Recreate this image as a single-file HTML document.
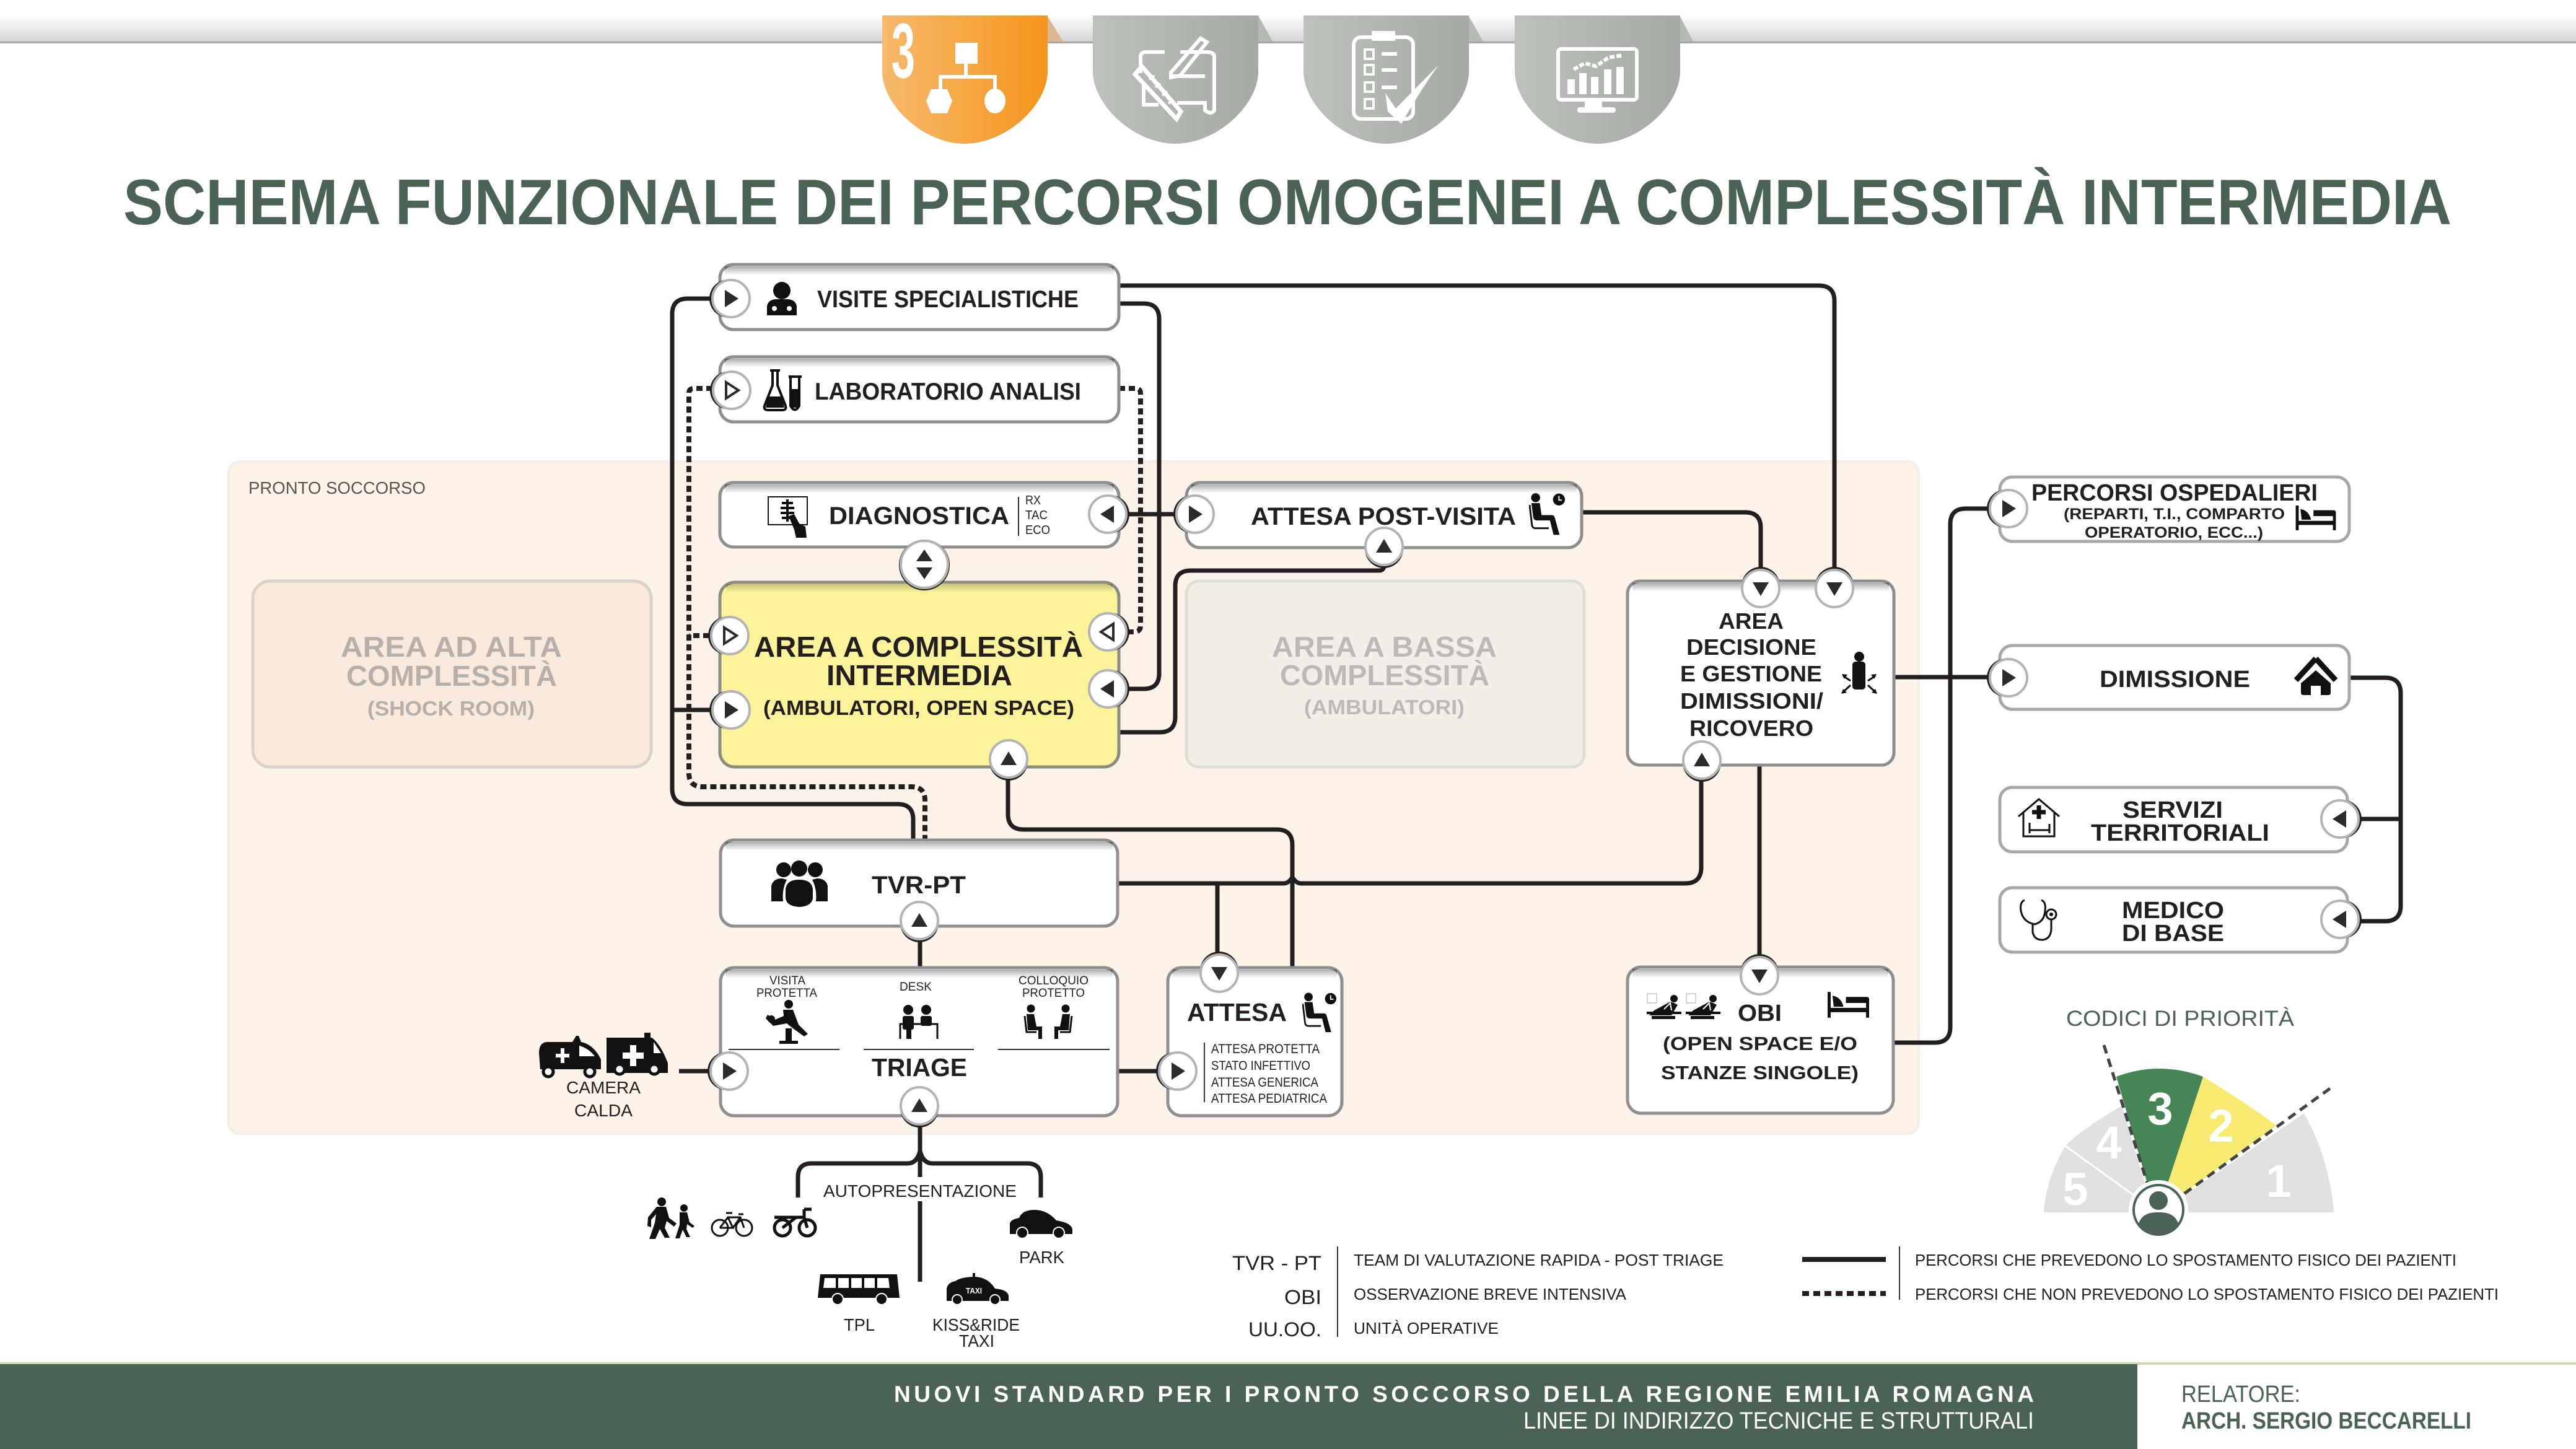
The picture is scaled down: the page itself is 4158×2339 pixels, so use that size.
<!DOCTYPE html>
<html lang="it"><head><meta charset="utf-8"><title>Schema funzionale</title>
<style>
html,body{margin:0;padding:0;background:#fff}
svg{display:block}
text{font-family:"Liberation Sans",sans-serif;fill:#231f20}
.b{font-weight:700}
.g{fill:#4a6354}
.w{fill:#fff}
.ln{fill:none;stroke:#231f20;stroke-width:7}
.dt{fill:none;stroke:#231f20;stroke-width:8;stroke-dasharray:10 6}
.bx{fill:#fff;stroke:#8f8f8f;stroke-width:5}
.bx2{fill:#fff;stroke:#a8a8a8;stroke-width:5}
.ic{fill:#111}
.st{fill:none;stroke:#111;stroke-width:4}
.wst{fill:none;stroke:#fff;stroke-width:6}
</style></head><body>
<svg xmlns="http://www.w3.org/2000/svg" width="4158" height="2339" viewBox="0 0 4158 2339">
<defs>
<linearGradient id="band" x1="0" y1="0" x2="0" y2="1"><stop offset="0" stop-color="#fff"/><stop offset="1" stop-color="#d4d4d4"/></linearGradient>
<linearGradient id="org" x1="0" y1="0" x2="1" y2="0"><stop offset="0" stop-color="#f7b96b"/><stop offset="1" stop-color="#f5951d"/></linearGradient>
<linearGradient id="gry" x1="0" y1="0" x2="1" y2="0"><stop offset="0" stop-color="#bdc1bb"/><stop offset="1" stop-color="#a4a9a3"/></linearGradient>
<linearGradient id="ins" x1="0" y1="0" x2="0" y2="1"><stop offset="0" stop-color="#000" stop-opacity=".32"/><stop offset="1" stop-color="#000" stop-opacity="0"/></linearGradient>
<path id="shield" d="M0 0H267V90C267 145 200 207 133 207C67 207 0 145 0 90Z"/>
<g id="bR"><circle cx="-4" r="31" fill="#231f20"/><circle r="30" fill="#fff" stroke="#b4b4b4" stroke-width="4"/><polygon points="-10,-14 12,0 -10,14" fill="#2b2b2b"/></g>
<g id="bL"><circle cx="4" r="31" fill="#231f20"/><circle r="30" fill="#fff" stroke="#b4b4b4" stroke-width="4"/><polygon points="10,-14 -12,0 10,14" fill="#2b2b2b"/></g>
<g id="bU"><circle cy="4" r="31" fill="#231f20"/><circle r="30" fill="#fff" stroke="#b4b4b4" stroke-width="4"/><polygon points="-13,10 0,-12 13,10" fill="#2b2b2b"/></g>
<g id="bD"><circle cy="-4" r="31" fill="#231f20"/><circle r="30" fill="#fff" stroke="#b4b4b4" stroke-width="4"/><polygon points="-13,-10 0,12 13,-10" fill="#2b2b2b"/></g>
<g id="bRh"><circle cx="-4" r="31" fill="#231f20"/><circle r="30" fill="#fff" stroke="#b4b4b4" stroke-width="4"/><polygon points="-9,-13 11,0 -9,13" fill="#fff" stroke="#2b2b2b" stroke-width="4"/></g>
<g id="bLh"><circle cx="4" r="31" fill="#231f20"/><circle r="30" fill="#fff" stroke="#b4b4b4" stroke-width="4"/><polygon points="9,-13 -11,0 9,13" fill="#fff" stroke="#2b2b2b" stroke-width="4"/></g>
<symbol id="seat" viewBox="0 0 60 72"><circle cx="11" cy="8" r="7.5" fill="#111"/><path d="M4 17h14l3 20h17q4 0 5 4l8 29h-10l-6-24H14q-6 0-7-6z" fill="#111"/><path d="M1 20l4 34q1 5 6 5h22" fill="none" stroke="#111" stroke-width="3"/><circle cx="50" cy="11" r="10" fill="#111"/><path d="M50 5v7h5" fill="none" stroke="#fff" stroke-width="2"/></symbol>
<symbol id="bed" viewBox="0 0 68 42"><path d="M0 0h5v26h58v-8H30V8h34q4 0 4 4v30h-5v-9H5v9H0z" fill="#111"/><path d="M8 6q14 2 18 18H10z" fill="#111"/></symbol>
<symbol id="pat" viewBox="0 0 56 42"><rect x="1" y="1" width="15" height="15" fill="#fff" stroke="#aaa" stroke-width="1"/><circle cx="44" cy="9" r="6" fill="#111"/><path d="M12 28L38 14l6 2 6 3-10 17H4z" fill="#111"/><path d="M28 26l10-10 2 12" fill="none" stroke="#fff" stroke-width="2"/><rect y="30" width="56" height="4" fill="#111"/><rect x="8" y="37" width="38" height="5" fill="#111"/></symbol>
</defs>

<!-- top band -->
<rect x="0" y="25" width="4158" height="42" fill="url(#band)"/>
<rect x="0" y="67" width="4158" height="3" fill="#a6a8a7"/>
<polygon points="1690,25 1716,67 1690,67" fill="#d9b88f"/>
<polygon points="2031,25 2054,67 2031,67" fill="#b5b9b4"/>
<polygon points="2370,25 2394,67 2370,67" fill="#b5b9b4"/>
<polygon points="2711,25 2733,67 2711,67" fill="#b5b9b4"/>
<use href="#shield" x="1424" y="25" fill="url(#org)"/>
<use href="#shield" x="1764" y="25" fill="url(#gry)"/>
<use href="#shield" x="2104" y="25" fill="url(#gry)"/>
<use href="#shield" x="2445" y="25" fill="url(#gry)"/>
<!-- shield 1 -->
<text x="1439" y="125" font-size="125" class="b w" textLength="38" lengthAdjust="spacingAndGlyphs">3</text>
<rect x="1542" y="69" width="36" height="34" fill="#fff"/>
<path d="M1559 103V122M1518 145V124H1606V145" class="wst"/>
<polygon points="1495,163 1503,144 1529,144 1537,163 1529,183 1503,183" fill="#fff"/>
<ellipse cx="1606" cy="163" rx="17" ry="20" fill="#fff"/>
<!-- shield 2 -->
<path d="M1905 84H1948Q1960 84 1960 92V178Q1955 186 1945 178V166H1900M1841 118V92Q1841 84 1850 84H1880M1846 135V169H1870" class="wst"/>
<polygon points="1832,120 1843,107 1906,180 1899,192" fill="none" stroke="#fff" stroke-width="7"/>
<path d="M1890 117L1938 62L1948 68L1905 122L1890 125Z" fill="none" stroke="#fff" stroke-width="6"/>
<path d="M1890 123H1945" class="wst"/>
<path d="M1855 128l8-6M1865 141l8-6M1876 154l8-6M1886 167l8-6" stroke="#fff" stroke-width="4"/>
<!-- shield 3 -->
<rect x="2185" y="60" width="96" height="132" rx="12" class="wst"/>
<rect x="2214" y="50" width="38" height="16" fill="#fff"/>
<rect x="2203" y="80" width="14" height="15" class="wst" style="stroke-width:4"/><path d="M2230 87h25" class="wst"/>
<rect x="2203" y="105" width="14" height="15" class="wst" style="stroke-width:4"/><path d="M2230 113h25" class="wst"/>
<rect x="2203" y="133" width="14" height="15" class="wst" style="stroke-width:4"/><path d="M2230 141h25" class="wst"/>
<rect x="2203" y="160" width="14" height="15" class="wst" style="stroke-width:4"/>
<path d="M2236 150L2253 175L2322 105Q2290 150 2262 200L2240 180Z" fill="#fff"/>
<!-- shield 4 -->
<rect x="2515" y="79" width="127" height="82" rx="5" class="wst"/>
<rect x="2558" y="161" width="28" height="14" fill="#fff"/><rect x="2546" y="173" width="62" height="9" rx="4" fill="#fff"/>
<path d="M2536 152v-24M2555 152v-34M2574 152v-28M2595 152v-40M2615 152v-44" stroke="#fff" stroke-width="12" fill="none"/>
<path d="M2540 112l18-10 18 5 20-14 24-4" stroke="#fff" stroke-width="6" fill="none" stroke-dasharray="8 3"/>

<!-- title -->
<text x="199" y="362" font-size="104" class="b g" textLength="3758" lengthAdjust="spacingAndGlyphs">SCHEMA FUNZIONALE DEI PERCORSI OMOGENEI A COMPLESSITÀ INTERMEDIA</text>

<!-- pronto soccorso -->
<rect x="369" y="745" width="2728" height="1085" rx="18" fill="#fdf3e8" stroke="#f2efe9" stroke-width="4"/>
<text x="401" y="797" font-size="28" style="fill:#58564f" textLength="286" lengthAdjust="spacingAndGlyphs">PRONTO SOCCORSO</text>

<rect x="408" y="938" width="643" height="300" rx="28" fill="#f9e8dc" stroke="#d8d2cb" stroke-width="5"/>
<rect x="1915" y="938" width="642" height="300" rx="20" fill="#f2ede6" stroke="#e0dcd6" stroke-width="5"/>

<!-- connectors -->
<path class="ln" d="M1806 461H2936Q2961 461 2961 486V925"/>
<path class="ln" d="M1806 490H1846Q1871 490 1871 515V1087Q1871 1112 1846 1112H1815"/>
<path class="ln" d="M1150 482H1110Q1085 482 1085 507V1273Q1085 1298 1110 1298H1449Q1474 1298 1474 1323V1356"/>
<path class="ln" d="M1085 1146H1150"/>
<path class="ln" d="M1815 830H1900"/>
<path class="ln" d="M1806 1182H1872Q1897 1182 1897 1157V946Q1897 921 1922 921H2226Q2234 921 2234 912"/>
<path class="ln" d="M2553 827H2817Q2842 827 2842 852V925"/>
<path class="ln" d="M2840 1235V1550"/>
<path class="ln" d="M3057 1093H3215"/>
<path class="ln" d="M3057 1683H3123Q3148 1683 3148 1658V846Q3148 821 3173 821H3215"/>
<path class="ln" d="M3792 1094H3850Q3875 1094 3875 1119V1462Q3875 1487 3850 1487H3805"/>
<path class="ln" d="M3800 1322H3875"/>
<path class="ln" d="M1804 1426H2072Q2080 1426 2086 1416Q2092 1426 2100 1426H2720Q2746 1426 2746 1400V1255"/>
<path class="ln" d="M1965 1426V1545"/>
<path class="ln" d="M2086 1562V1364Q2086 1339 2061 1339H1652Q1627 1339 1627 1314V1255"/>
<path class="ln" d="M1485 1515V1562"/>
<path class="ln" d="M1485 1810V1900M1485 1939V2069"/>
<path class="ln" d="M1288 1933V1900Q1288 1878 1310 1878H1465Q1480 1878 1485 1858Q1490 1878 1505 1878H1658Q1680 1878 1680 1900V1933"/>
<path class="ln" d="M1096 1729H1150M1804 1729H1875"/>
<path class="dt" d="M1150 627H1120Q1112 627 1112 635V1248Q1112 1270 1134 1270H1471Q1493 1270 1493 1292V1356"/>
<path class="dt" d="M1145 1026H1112"/>
<path class="dt" d="M1806 627H1833Q1841 627 1841 635V1010Q1841 1020 1830 1020H1815"/>

<!-- boxes -->
<rect x="1162" y="427" width="644" height="105" rx="22" class="bx"/><rect x="1170" y="430" width="628" height="14" fill="url(#ins)"/>
<rect x="1162" y="576" width="644" height="105" rx="22" class="bx"/><rect x="1170" y="579" width="628" height="14" fill="url(#ins)"/>
<rect x="1162" y="779" width="644" height="104" rx="22" class="bx"/><rect x="1170" y="782" width="628" height="14" fill="url(#ins)"/>
<rect x="1162" y="940" width="644" height="298" rx="24" fill="#faf399" stroke="#8c8c83" stroke-width="5"/><rect x="1172" y="943" width="624" height="14" fill="url(#ins)" opacity=".6"/>
<rect x="1915" y="779" width="638" height="105" rx="22" class="bx"/><rect x="1923" y="782" width="622" height="14" fill="url(#ins)"/>
<rect x="2627" y="938" width="430" height="297" rx="20" class="bx"/><rect x="2635" y="941" width="414" height="14" fill="url(#ins)"/>
<rect x="1163" y="1356" width="641" height="139" rx="22" class="bx"/><rect x="1171" y="1359" width="625" height="14" fill="url(#ins)"/>
<rect x="1163" y="1562" width="641" height="239" rx="22" class="bx"/><rect x="1171" y="1565" width="625" height="14" fill="url(#ins)"/>
<rect x="1885" y="1562" width="281" height="239" rx="22" class="bx"/><rect x="1893" y="1565" width="265" height="14" fill="url(#ins)"/>
<rect x="2627" y="1561" width="429" height="236" rx="22" class="bx"/><rect x="2635" y="1564" width="413" height="14" fill="url(#ins)"/>
<rect x="3228" y="770" width="564" height="104" rx="20" class="bx2"/>
<rect x="3228" y="1042" width="564" height="103" rx="20" class="bx2"/>
<rect x="3228" y="1271" width="561" height="104" rx="20" class="bx2"/>
<rect x="3228" y="1433" width="561" height="104" rx="20" class="bx2"/>

<!-- buttons -->
<use href="#bR" x="1180" y="482"/>
<use href="#bRh" x="1181" y="630"/>
<use href="#bL" x="1788" y="830"/>
<use href="#bR" x="1929" y="830"/>
<g transform="translate(1492,911)"><circle r="41" cy="1" fill="#231f20"/><circle r="38" fill="#fff" stroke="#b4b4b4" stroke-width="4"/><polygon points="-13,-5 0,-24 13,-5" fill="#2b2b2b"/><polygon points="-13,5 0,24 13,5" fill="#2b2b2b"/></g>
<use href="#bRh" x="1178" y="1026"/>
<use href="#bR" x="1180" y="1146"/>
<use href="#bLh" x="1788" y="1020"/>
<use href="#bL" x="1788" y="1112"/>
<use href="#bU" x="1628" y="1225"/>
<use href="#bU" x="2234" y="882"/>
<use href="#bD" x="2842" y="950"/>
<use href="#bD" x="2961" y="950"/>
<use href="#bU" x="2747" y="1227"/>
<use href="#bU" x="1484" y="1486"/>
<use href="#bU" x="1484" y="1785"/>
<use href="#bR" x="1177" y="1729"/>
<use href="#bR" x="1901" y="1729"/>
<use href="#bD" x="1968" y="1571"/>
<use href="#bD" x="2840" y="1575"/>
<use href="#bR" x="3242" y="821"/>
<use href="#bR" x="3242" y="1094"/>
<use href="#bL" x="3777" y="1322"/>
<use href="#bL" x="3777" y="1484"/>

<!-- texts in grey areas -->
<g class="b">
<text x="550" y="1060" font-size="46" style="fill:#b7b0aa" textLength="357" lengthAdjust="spacingAndGlyphs">AREA AD ALTA</text>
<text x="559" y="1107" font-size="46" style="fill:#b7b0aa" textLength="340" lengthAdjust="spacingAndGlyphs">COMPLESSITÀ</text>
<text x="593" y="1155" font-size="33" style="fill:#b7b0aa" textLength="270" lengthAdjust="spacingAndGlyphs">(SHOCK ROOM)</text>
<text x="2053" y="1060" font-size="46" style="fill:#bdb9b4" textLength="363" lengthAdjust="spacingAndGlyphs">AREA A BASSA</text>
<text x="2066" y="1106" font-size="46" style="fill:#bdb9b4" textLength="338" lengthAdjust="spacingAndGlyphs">COMPLESSITÀ</text>
<text x="2105" y="1153" font-size="33" style="fill:#bdb9b4" textLength="259" lengthAdjust="spacingAndGlyphs">(AMBULATORI)</text>

<text x="1319" y="496" font-size="39" textLength="422" lengthAdjust="spacingAndGlyphs">VISITE SPECIALISTICHE</text>
<text x="1315" y="645" font-size="39" textLength="430" lengthAdjust="spacingAndGlyphs">LABORATORIO ANALISI</text>
<text x="1338" y="846" font-size="40" textLength="291" lengthAdjust="spacingAndGlyphs">DIAGNOSTICA</text>
<text x="1217" y="1060" font-size="46" textLength="531" lengthAdjust="spacingAndGlyphs">AREA A COMPLESSITÀ</text>
<text x="1334" y="1106" font-size="46" textLength="300" lengthAdjust="spacingAndGlyphs">INTERMEDIA</text>
<text x="1232" y="1154" font-size="33" textLength="502" lengthAdjust="spacingAndGlyphs">(AMBULATORI, OPEN SPACE)</text>
<text x="2019" y="847" font-size="40" textLength="428" lengthAdjust="spacingAndGlyphs">ATTESA POST-VISITA</text>
<text x="2774" y="1015" font-size="36" textLength="105" lengthAdjust="spacingAndGlyphs">AREA</text>
<text x="2722" y="1057" font-size="36" textLength="210" lengthAdjust="spacingAndGlyphs">DECISIONE</text>
<text x="2712" y="1100" font-size="36" textLength="229" lengthAdjust="spacingAndGlyphs">E GESTIONE</text>
<text x="2712" y="1144" font-size="36" textLength="231" lengthAdjust="spacingAndGlyphs">DIMISSIONI/</text>
<text x="2727" y="1188" font-size="36" textLength="200" lengthAdjust="spacingAndGlyphs">RICOVERO</text>
<text x="1407" y="1442" font-size="40" textLength="152" lengthAdjust="spacingAndGlyphs">TVR-PT</text>
<text x="1407" y="1737" font-size="41" textLength="154" lengthAdjust="spacingAndGlyphs">TRIAGE</text>
<text x="1916" y="1648" font-size="41" textLength="161" lengthAdjust="spacingAndGlyphs">ATTESA</text>
<text x="2805" y="1648" font-size="38" textLength="71" lengthAdjust="spacingAndGlyphs">OBI</text>
<text x="2684" y="1695" font-size="31" textLength="314" lengthAdjust="spacingAndGlyphs">(OPEN SPACE E/O</text>
<text x="2681" y="1742" font-size="31" textLength="319" lengthAdjust="spacingAndGlyphs">STANZE SINGOLE)</text>
<text x="3279" y="808" font-size="38" textLength="462" lengthAdjust="spacingAndGlyphs">PERCORSI OSPEDALIERI</text>
<text x="3331" y="838" font-size="25" textLength="357" lengthAdjust="spacingAndGlyphs">(REPARTI, T.I., COMPARTO</text>
<text x="3365" y="868" font-size="25" textLength="288" lengthAdjust="spacingAndGlyphs">OPERATORIO, ECC...)</text>
<text x="3389" y="1109" font-size="38" textLength="243" lengthAdjust="spacingAndGlyphs">DIMISSIONE</text>
<text x="3426" y="1320" font-size="38" textLength="162" lengthAdjust="spacingAndGlyphs">SERVIZI</text>
<text x="3375" y="1357" font-size="38" textLength="288" lengthAdjust="spacingAndGlyphs">TERRITORIALI</text>
<text x="3425" y="1482" font-size="38" textLength="165" lengthAdjust="spacingAndGlyphs">MEDICO</text>
<text x="3425" y="1519" font-size="38" textLength="165" lengthAdjust="spacingAndGlyphs">DI BASE</text>
</g>

<!-- thin texts -->
<path d="M1644 802V865" stroke="#333" stroke-width="2"/>
<text x="1655" y="814" font-size="20" textLength="25" lengthAdjust="spacingAndGlyphs">RX</text>
<text x="1655" y="838" font-size="20" textLength="36" lengthAdjust="spacingAndGlyphs">TAC</text>
<text x="1655" y="862" font-size="20" textLength="40" lengthAdjust="spacingAndGlyphs">ECO</text>

<text x="1242" y="1589" font-size="19" textLength="58" lengthAdjust="spacingAndGlyphs">VISITA</text>
<text x="1221" y="1609" font-size="19" textLength="98" lengthAdjust="spacingAndGlyphs">PROTETTA</text>
<text x="1452" y="1599" font-size="19" textLength="52" lengthAdjust="spacingAndGlyphs">DESK</text>
<text x="1644" y="1589" font-size="19" textLength="113" lengthAdjust="spacingAndGlyphs">COLLOQUIO</text>
<text x="1650" y="1609" font-size="19" textLength="101" lengthAdjust="spacingAndGlyphs">PROTETTO</text>
<path d="M1176 1694H1355M1394 1694H1572M1611 1694H1791" stroke="#333" stroke-width="2"/>
<path d="M1944 1683V1779" stroke="#333" stroke-width="2"/>
<text x="1955" y="1700" font-size="21" textLength="175" lengthAdjust="spacingAndGlyphs">ATTESA PROTETTA</text>
<text x="1955" y="1727" font-size="21" textLength="160" lengthAdjust="spacingAndGlyphs">STATO INFETTIVO</text>
<text x="1955" y="1754" font-size="21" textLength="173" lengthAdjust="spacingAndGlyphs">ATTESA GENERICA</text>
<text x="1955" y="1780" font-size="21" textLength="187" lengthAdjust="spacingAndGlyphs">ATTESA PEDIATRICA</text>
<text x="914" y="1765" font-size="28" textLength="120" lengthAdjust="spacingAndGlyphs">CAMERA</text>
<text x="927" y="1802" font-size="28" textLength="94" lengthAdjust="spacingAndGlyphs">CALDA</text>
<text x="1329" y="1932" font-size="28" textLength="312" lengthAdjust="spacingAndGlyphs">AUTOPRESENTAZIONE</text>
<text x="1645" y="2039" font-size="28" textLength="73" lengthAdjust="spacingAndGlyphs">PARK</text>
<text x="1362" y="2148" font-size="28" textLength="50" lengthAdjust="spacingAndGlyphs">TPL</text>
<text x="1505" y="2148" font-size="28" textLength="141" lengthAdjust="spacingAndGlyphs">KISS&amp;RIDE</text>
<text x="1548" y="2174" font-size="28" textLength="57" lengthAdjust="spacingAndGlyphs">TAXI</text>

<!-- icons in boxes -->
<circle cx="1262" cy="469" r="14" class="ic"/><path d="M1238 509V494Q1240 484 1252 483H1272Q1284 484 1286 494V509Z" class="ic"/><circle cx="1250" cy="498" r="4" fill="#fff"/><circle cx="1274" cy="498" r="4" fill="#fff"/>
<path d="M1243 598H1259M1247 598V622L1234 655Q1232 662 1240 662H1263Q1270 662 1268 655L1255 622V598" class="st"/><path d="M1240 640H1262L1266 658H1236Z" class="ic"/>
<path d="M1273 608H1294M1276 608V655Q1283 668 1290 655V608" class="st"/><rect x="1276" y="628" width="14" height="30" class="ic"/>
<rect x="1240" y="802" width="63" height="45" fill="#fff" stroke="#111" stroke-width="2"/><path d="M1262 812H1280M1260 820H1282M1260 828H1282M1262 836H1280M1271 806V842" stroke="#111" stroke-width="4" fill="none"/><path d="M1273 833L1282 830L1290 845L1300 850L1302 868H1285L1282 855Z" class="ic"/>
<use href="#seat" x="2468" y="795" width="58" height="71"/>
<use href="#seat" x="2102" y="1600" width="55" height="70"/>
<circle cx="3001" cy="1060" r="8" class="ic"/><rect x="2990" y="1068" width="21" height="45" rx="5" class="ic"/><path d="M2987 1099l-12-8M3015 1099l12-8M2987 1106l-12 11M3015 1106l12 11" stroke="#111" stroke-width="3" fill="none"/><path d="M2973 1088l9 1-5 7zM3029 1088l-9 1 5 7zM2972 1120l9-2-6-6zM3030 1120l-9-2 6-6z" class="ic"/>
<circle cx="1265" cy="1404" r="12" class="ic"/><circle cx="1290" cy="1402" r="13" class="ic"/><circle cx="1316" cy="1404" r="12" class="ic"/>
<path d="M1245 1455V1430Q1248 1418 1262 1418L1270 1420Q1262 1435 1264 1455Z" class="ic"/><path d="M1336 1455V1430Q1333 1418 1319 1418L1311 1420Q1319 1435 1317 1455Z" class="ic"/><path d="M1268 1450V1435Q1270 1420 1290 1420Q1310 1420 1312 1435V1450Q1310 1463 1290 1464Q1270 1463 1268 1450Z" class="ic"/>
<circle cx="1273" cy="1621" r="7" class="ic"/><path d="M1264 1630h16l9 24 15 15-6 4-18-13-10-8-22 4-12-12 3-6 12 8 14-6z" class="ic"/><circle cx="1245" cy="1645" r="6" class="ic"/><rect x="1268" y="1660" width="10" height="22" class="ic"/><rect x="1258" y="1680" width="30" height="5" class="ic"/>
<circle cx="1466" cy="1630" r="8" class="ic"/><circle cx="1495" cy="1630" r="8" class="ic"/><rect x="1457" y="1640" width="18" height="22" rx="3" class="ic"/><rect x="1486" y="1640" width="18" height="16" rx="3" class="ic"/><path d="M1453 1677V1653H1513V1677" fill="none" stroke="#111" stroke-width="3"/><rect x="1463" y="1660" width="8" height="17" class="ic"/>
<circle cx="1664" cy="1628" r="6.5" class="ic"/><circle cx="1720" cy="1628" r="6.5" class="ic"/><path d="M1657 1637h12l4 20h9v20h-6v-14h-17zM1727 1637h-12l-4 20h-9v20h6v-14h17z" class="ic"/><path d="M1654 1640l3 26h16M1730 1640l-3 26h-16" fill="none" stroke="#111" stroke-width="3"/>
<use href="#pat" x="2658" y="1603" width="56" height="42"/><use href="#pat" x="2720" y="1603" width="58" height="42"/>
<use href="#bed" x="2950" y="1601" width="67" height="42"/>
<use href="#bed" x="3704" y="816" width="68" height="40"/>
<path d="M3738 1063L3706 1098M3738 1063L3770 1098" stroke="#111" stroke-width="9" fill="none"/><path d="M3738 1082L3714 1103V1118Q3714 1122 3718 1122H3730V1107H3746V1122H3758Q3762 1122 3762 1118V1103Z" class="ic"/>
<path d="M3258 1318L3291 1290L3324 1318M3266 1312V1350H3316V1312" class="st" style="stroke-width:3"/><path d="M3291 1300V1322M3280 1311H3302" stroke="#111" stroke-width="7" fill="none"/><path d="M3276 1328V1345M3276 1340H3308M3308 1330V1345" stroke="#111" stroke-width="3" fill="none"/>
<path d="M3268 1453Q3260 1456 3262 1470Q3265 1488 3284 1492Q3300 1488 3301 1470Q3303 1456 3295 1453M3281 1492V1505Q3284 1518 3298 1517Q3310 1515 3311 1500V1485" class="st" style="stroke-width:3"/><circle cx="3311" cy="1476" r="8" fill="none" stroke="#111" stroke-width="3"/><circle cx="3311" cy="1476" r="3" class="ic"/>

<!-- ambulances -->
<path d="M870 1700Q870 1682 884 1682H924L930 1672H934L938 1682Q958 1686 970 1710V1726H872Z" class="ic"/><path d="M935 1688Q950 1692 960 1705H935Z" fill="#fff"/><path d="M908 1692v24M897 1704h22" stroke="#fff" stroke-width="6"/><circle cx="885" cy="1730" r="8" fill="#fff" stroke="#111" stroke-width="5"/><circle cx="952" cy="1730" r="8" fill="#fff" stroke="#111" stroke-width="5"/>
<path d="M979 1675H1052Q1066 1685 1078 1716V1732H979Z" class="ic"/><path d="M1040 1667h10v8h-10z" class="ic"/><path d="M1055 1682L1067 1700H1055Z" fill="#fff"/><path d="M1022 1687v34M1005 1704h34" stroke="#fff" stroke-width="10"/><circle cx="1000" cy="1726" r="8" fill="#fff" stroke="#111" stroke-width="5"/><circle cx="1056" cy="1726" r="8" fill="#fff" stroke="#111" stroke-width="5"/>

<!-- transport icons -->
<circle cx="1068" cy="1940" r="7" class="ic"/><path d="M1060 1948h15l5 18 12 9-4 5-12-9-3 11 8 16h-8l-8-14-7 16h-10l9-26 2-14-8 9 0 12-6-2 1-14z" class="ic"/>
<circle cx="1104" cy="1950" r="6" class="ic"/><path d="M1097 1957h12l4 16 8 6-3 3-9-6-1 8 6 13h-6l-6-12-5 14h-7l7-22z" class="ic"/>
<circle cx="1162" cy="1982" r="13" fill="none" stroke="#111" stroke-width="3"/><circle cx="1201" cy="1982" r="13" fill="none" stroke="#111" stroke-width="3"/><path d="M1162 1982L1175 1965H1195L1201 1982M1175 1965L1183 1982H1162M1195 1965L1183 1982M1172 1958H1182M1192 1960H1200" fill="none" stroke="#111" stroke-width="3"/>
<circle cx="1263" cy="1982" r="13" fill="none" stroke="#111" stroke-width="5"/><circle cx="1303" cy="1982" r="13" fill="none" stroke="#111" stroke-width="5"/><path d="M1263 1982L1285 1965H1298L1303 1982M1250 1965H1285M1298 1952H1310M1298 1952V1966" fill="none" stroke="#111" stroke-width="5"/>
<path d="M1630 1990V1975Q1632 1968 1645 1966Q1650 1953 1670 1953Q1690 1953 1705 1970Q1730 1974 1731 1985V1992H1630Z" class="ic"/><circle cx="1650" cy="1990" r="9" class="ic" stroke="#fff" stroke-width="2"/><circle cx="1709" cy="1990" r="9" class="ic" stroke="#fff" stroke-width="2"/>
<path d="M1324 2057H1448L1452 2095H1320Z" class="ic"/><path d="M1331 2063h18v16h-20zM1353 2063h17v16h-17zM1374 2063h17v16h-17zM1395 2063h17v16h-17zM1416 2063h18l2 16h-20z" fill="#fff"/><circle cx="1352" cy="2097" r="9" class="ic" stroke="#fff" stroke-width="2"/><circle cx="1423" cy="2097" r="9" class="ic" stroke="#fff" stroke-width="2"/>
<path d="M1528 2098V2080Q1530 2070 1542 2068Q1550 2062 1570 2061V2055H1574V2061Q1595 2062 1606 2080Q1627 2082 1628 2092V2100H1528Z" class="ic"/><circle cx="1545" cy="2098" r="8" class="ic" stroke="#fff" stroke-width="2"/><circle cx="1606" cy="2098" r="8" class="ic" stroke="#fff" stroke-width="2"/>
<text x="1559" y="2088" font-size="13" class="b w" textLength="26" lengthAdjust="spacingAndGlyphs">TAXI</text>

<!-- gauge -->
<text x="3335" y="1656" font-size="35" class="g" textLength="368" lengthAdjust="spacingAndGlyphs">CODICI DI PRIORITÀ</text>
<path d="M3528 1928L3719 1797Q3760 1870 3767 1957H3528Z" fill="#e0e0e0"/>
<path d="M3462 1910L3425 1785Q3356 1825 3334 1850L3445 1928Z" fill="#e0e0e0"/>
<path d="M3334 1850Q3303 1900 3299 1957H3441V1928Z" fill="#e0e0e0"/>
<path d="M3334 1850L3445 1930" stroke="#fff" stroke-width="3"/>
<path d="M3499 1910L3556 1738Q3640 1790 3674 1817L3524 1928Z" fill="#f6ea70"/>
<path d="M3416 1738Q3485 1712 3556 1738L3499 1910H3466Z" fill="#468656"/>
<path d="M3396 1687L3466 1910M3761 1757L3524 1928" stroke="#444" stroke-width="5" stroke-dasharray="14 9" fill="none"/>
<g text-anchor="middle" font-size="74">
<text x="3487" y="1815" class="b w">3</text><text x="3585" y="1843" class="b w">2</text><text x="3404" y="1870" class="b w">4</text><text x="3350" y="1945" class="b w">5</text><text x="3678" y="1932" class="b w">1</text>
</g>
<circle cx="3484" cy="1953" r="48" fill="#fff"/>
<circle cx="3484" cy="1953" r="40" fill="#fff" stroke="#4a6354" stroke-width="4"/>
<circle cx="3484" cy="1938" r="15" fill="#4a6354"/>
<path d="M3452 1975Q3458 1956 3484 1957Q3510 1956 3516 1975Q3505 1992 3484 1992Q3463 1992 3452 1975Z" fill="#4a6354"/>

<!-- legend -->
<text x="1989" y="2050" font-size="32" textLength="144" lengthAdjust="spacingAndGlyphs">TVR - PT</text>
<text x="2073" y="2105" font-size="32" textLength="60" lengthAdjust="spacingAndGlyphs">OBI</text>
<text x="2015" y="2157" font-size="32" textLength="118" lengthAdjust="spacingAndGlyphs">UU.OO.</text>
<path d="M2159 2012V2158M3066 2012V2098" stroke="#333" stroke-width="2"/>
<text x="2185" y="2043" font-size="26" textLength="597" lengthAdjust="spacingAndGlyphs">TEAM DI VALUTAZIONE RAPIDA - POST TRIAGE</text>
<text x="2185" y="2098" font-size="26" textLength="440" lengthAdjust="spacingAndGlyphs">OSSERVAZIONE BREVE INTENSIVA</text>
<text x="2185" y="2153" font-size="26" textLength="234" lengthAdjust="spacingAndGlyphs">UNITÀ OPERATIVE</text>
<path d="M2909 2033H3044" stroke="#231f20" stroke-width="8"/>
<path d="M2909 2088H3044" stroke="#231f20" stroke-width="8" stroke-dasharray="11 7"/>
<text x="3091" y="2043" font-size="26" textLength="874" lengthAdjust="spacingAndGlyphs">PERCORSI CHE PREVEDONO LO SPOSTAMENTO FISICO DEI PAZIENTI</text>
<text x="3091" y="2098" font-size="26" textLength="942" lengthAdjust="spacingAndGlyphs">PERCORSI CHE NON PREVEDONO LO SPOSTAMENTO FISICO DEI PAZIENTI</text>

<!-- footer -->
<rect x="0" y="2199" width="4158" height="4" fill="#c9dcb0"/>
<rect x="0" y="2202" width="3450" height="137" fill="#4a6354"/>
<text x="1443" y="2263" font-size="37" class="b w" textLength="1840">NUOVI STANDARD PER I PRONTO SOCCORSO DELLA REGIONE EMILIA ROMAGNA</text>
<text x="2459" y="2306" font-size="38" class="w" textLength="824" lengthAdjust="spacingAndGlyphs">LINEE DI INDIRIZZO TECNICHE E STRUTTURALI</text>
<text x="3521" y="2263" font-size="38" class="g" textLength="192" lengthAdjust="spacingAndGlyphs">RELATORE:</text>
<text x="3521" y="2306" font-size="38" class="b g" textLength="468" lengthAdjust="spacingAndGlyphs">ARCH. SERGIO BECCARELLI</text>
</svg>
</body></html>
